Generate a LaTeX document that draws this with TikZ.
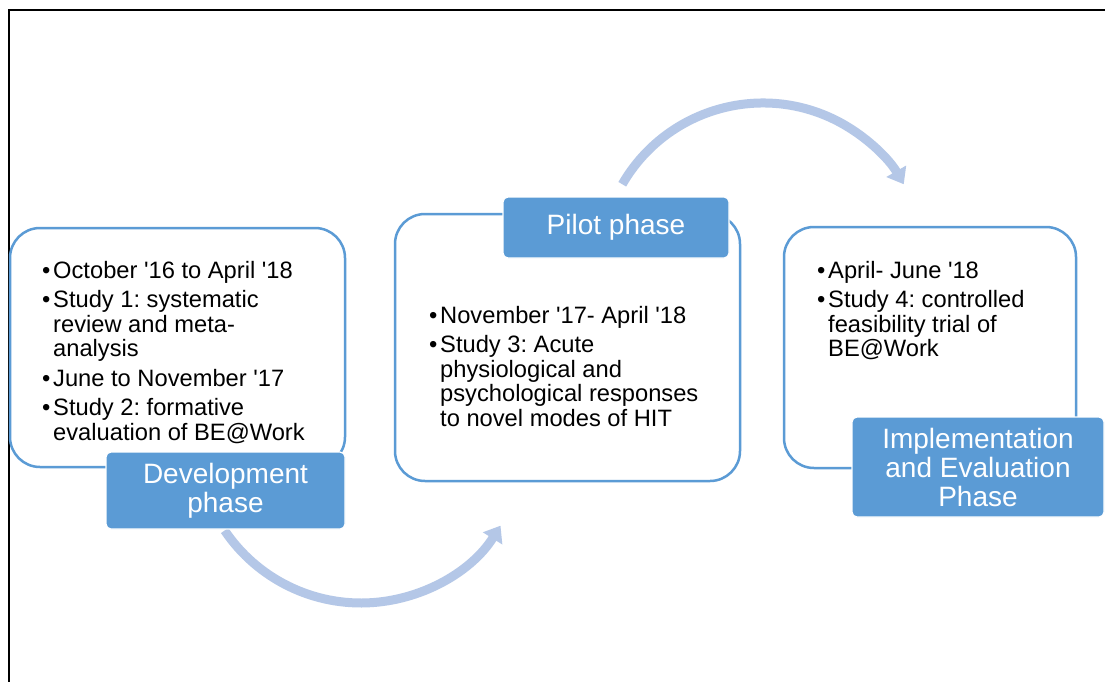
\documentclass[tikz,border=0pt]{standalone}
\usepackage{fontspec}
\newfontfamily\arial{Liberation Sans}
\usetikzlibrary{arrows.meta}
\definecolor{accent}{HTML}{5B9BD5}
\definecolor{arrowblue}{HTML}{B4C7E7}
\newcommand\bl{\makebox[11pt][l]{•}}
\newcommand\ind{\hspace*{11pt}}
\frenchspacing
\begin{document}
\begin{tikzpicture}[x=1pt,y=-1pt,
  content/.style={draw=accent, line width=2.5pt, fill=white, rounded corners=30pt, inner sep=0pt},
  phaselabel/.style={fill=accent, draw=white, line width=1.2pt, rounded corners=5pt, text=white,
    font=\arial\fontsize{28}{29}\selectfont, align=center, inner sep=0pt},
  txt/.style={font=\arial\fontsize{23.7}{24.5}\selectfont, align=left, inner sep=0pt, anchor=north west},
  bigarrow/.style={draw=arrowblue, line width=9pt, -{Triangle[width=22pt,length=15pt]}}
]
\useasboundingbox (0,0) rectangle (1105,682);
\clip (0,0) rectangle (1105,682);
\fill[white] (0,0) rectangle (1105,682);
% frame
\draw[line width=2pt] (8.7,700) -- (8.7,9.6) -- (1120,9.6);

% curved arrows
\coordinate (c1) at (361,438.5);
\coordinate (c2) at (763,265.5);
\draw[bigarrow] (c1) ++(214:164.5pt) arc[start angle=214, end angle=328, radius=164.5pt];
\draw[bigarrow] (c2) ++(150:162.5pt) arc[start angle=150, end angle=30, radius=162.5pt];

% content boxes
\node[content, minimum width=335pt, minimum height=239pt] (box1) at (177.5,347.5) {};
\node[content, minimum width=345pt, minimum height=267pt] (box2) at (567.5,347.5) {};
\node[content, minimum width=292pt, minimum height=241pt] (box3) at (930,347.5) {};

% texts
\node[txt] (t1) at (42,261) {\bl October '16 to April '18\\[5pt]
\bl Study 1: systematic\\ \ind review and meta-\\ \ind analysis\\[5pt]
\bl June to November '17\\[5pt]
\bl Study 2: formative\\ \ind evaluation of BE@Work};
\node[txt] (t2) at (429,306) {\bl November '17- April '18\\[5pt]
\bl Study 3: Acute\\ \ind physiological and\\ \ind psychological responses\\ \ind to novel modes of HIT};
\node[txt] (t3) at (817,261) {\bl April- June '18\\[5pt]
\bl Study 4: controlled\\ \ind feasibility trial of\\ \ind BE@Work};

% phase labels
\node[phaselabel, minimum width=239pt, minimum height=77pt] (dev) at (225.5,490.5) {Development\\phase};
\node[phaselabel, minimum width=226pt, minimum height=61pt] (pilot) at (616,227.5) {Pilot phase};
\node[phaselabel, minimum width=252pt, minimum height=100pt] (impl) at (978,467) {Implementation\\and Evaluation\\Phase};
\end{tikzpicture}
\end{document}
